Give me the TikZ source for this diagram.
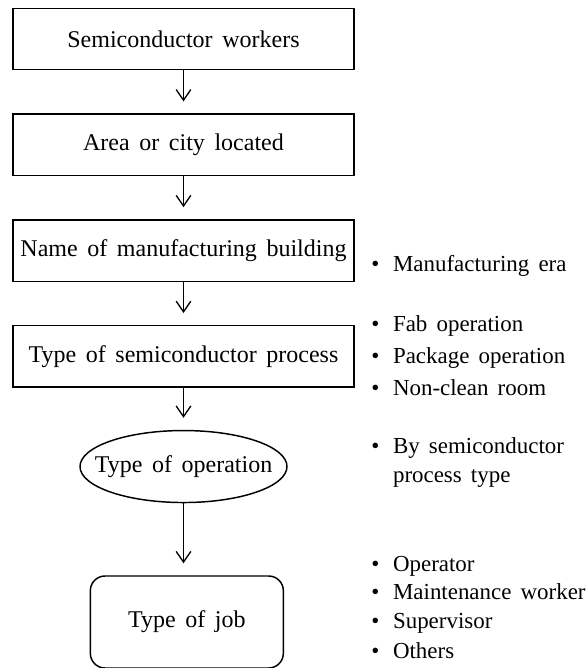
\documentclass[tikz,border=0pt]{standalone}
\usepackage{fontspec}
\setmainfont{Liberation Serif}[WordSpace=1.6]
\usetikzlibrary{arrows.meta,positioning,shapes.geometric}

\begin{document}
\begin{tikzpicture}[x=0.75pt,y=-0.75pt,>={Straight Barb[length=8pt,width=11pt]},node distance=32.25pt,
  box/.style={draw,line width=1.1pt,minimum width=255.75pt,minimum height=46pt,inner sep=0pt,font=\fontsize{18}{21}\selectfont},
  oval/.style={ellipse,draw,line width=1.1pt,minimum width=155.25pt,minimum height=54pt,inner sep=0pt,font=\fontsize{18}{21}\selectfont},
  jobbox/.style={draw,line width=1.1pt,rounded corners=11pt,minimum width=144.75pt,minimum height=69pt,inner sep=0pt,font=\fontsize{18}{21}\selectfont},
  note/.style={anchor=base west,inner sep=0pt,font=\fontsize{17.2}{20}\selectfont},
  flow/.style={->,line width=1pt,shorten >=9pt}]

  \useasboundingbox (0,0) rectangle (586,668);

  % main chain
  \node[box] (1) at (183.5,39) {Semiconductor workers};
  \node[box] (2) [below=of 1] {Area or city located};
  \node[box] (3) [below=of 2] {Name of manufacturing building};
  \node[box] (4) [below=of 3] {Type of semiconductor process};
  \node[oval] (5) [below=31.5pt of 4] {\makebox[0pt]{Type of operation}};
  \node[jobbox] (6) [below=54pt of 5,xshift=2.5pt] {Type of job};

  \draw[flow] (1) -- (2);
  \draw[flow] (2) -- (3);
  \draw[flow] (3) -- (4);
  \draw[flow] (4) -- (5);
  \draw[flow] (5) -- (5 |- 6.north);

  % notes on the right
  \node[note] (7) at (371,271) {\textbullet\hspace{.6em}Manufacturing era};
  \node[note] (8) at (371,331) {\textbullet\hspace{.6em}Fab operation};
  \node[note] (9) at (371,363) {\textbullet\hspace{.6em}Package operation};
  \node[note] (10) at (371,395) {\textbullet\hspace{.6em}Non-clean room};
  \node[note] (11) at (371,453) {\textbullet\hspace{.6em}By semiconductor};
  \node[note] (12) at (371,482) {\phantom{\textbullet}\hspace{.6em}process type};
  \node[note] (13) at (371,571) {\textbullet\hspace{.6em}Operator};
  \node[note] (14) at (371,599) {\textbullet\hspace{.6em}Maintenance worker};
  \node[note] (15) at (371,628) {\textbullet\hspace{.6em}Supervisor};
  \node[note] (16) at (371,658) {\textbullet\hspace{.6em}Others};

\end{tikzpicture}
\end{document}
